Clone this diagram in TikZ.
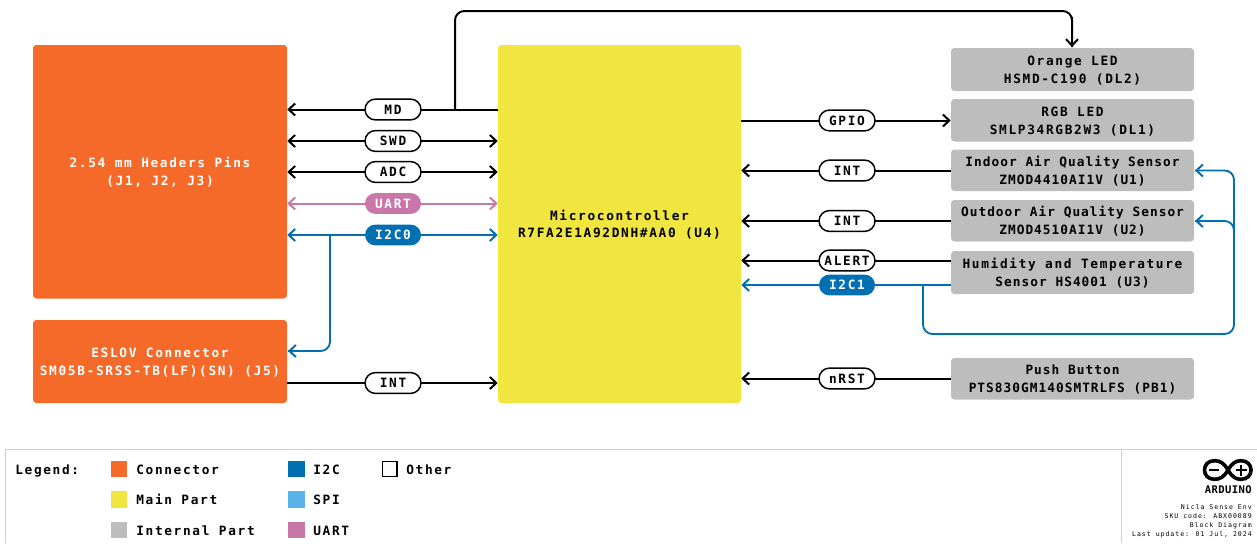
\documentclass[tikz,border=0pt]{standalone}
\usepackage{fontspec}
\usetikzlibrary{arrows.meta}
\newfontfamily\mainmono[LetterSpace=13]{DejaVu Sans Mono}
\newfontfamily\tightmono[LetterSpace=8]{DejaVu Sans Mono}
\newfontfamily\tinymono[LetterSpace=15]{DejaVu Sans Mono}
\newfontfamily\logomono[LetterSpace=4]{DejaVu Sans Mono}
\definecolor{cOrange}{HTML}{F56A29}
\definecolor{cYellow}{HTML}{F1E53F}
\definecolor{cGrey}{HTML}{BDBDBD}
\definecolor{cBlue}{HTML}{0070B2}
\definecolor{cSky}{HTML}{58B4E8}
\definecolor{cPink}{HTML}{C977A8}
\definecolor{cFrame}{HTML}{CFCFCF}
\newcommand{\fs}{\bfseries\fontsize{9.6}{13.3}\selectfont}
\tikzset{
  x=0.75pt,y=-0.75pt,
  part/.style={rounded corners=2.5pt,inner sep=0pt,align=center,font=\mainmono\fs},
  cblock/.style={part,fill=cOrange,text=white},
  mblock/.style={part,fill=cYellow,text=black},
  iblock/.style={part,fill=cGrey,text=black},
  pill/.style={rounded corners=7.8pt,minimum width=42pt,minimum height=15.6pt,inner sep=0pt,font=\mainmono\fs,line width=1.1pt},
  opill/.style={pill,draw=black,fill=white,text=black},
  bpill/.style={pill,fill=cBlue,text=white},
  ppill/.style={pill,fill=cPink,text=white},
  wire/.style={line width=1.5pt,draw=black,rounded corners=7pt},
  bwire/.style={line width=1.4pt,draw=cBlue,rounded corners=7pt},
  pwire/.style={line width=1.5pt,draw=cPink},
  tip/.style={-{Straight Barb[length=4.8pt,width=9pt,line width=1.5pt]}},
  dtip/.style={{Straight Barb[length=4.8pt,width=9pt,line width=1.5pt]}-{Straight Barb[length=4.8pt,width=9pt,line width=1.5pt]}},
  swatch/.style={minimum width=12.4pt,minimum height=12.4pt,inner sep=0pt},
  legtext/.style={anchor=base west,inner sep=0pt,font=\mainmono\fs},
  meta/.style={anchor=east,inner sep=0pt,font=\tinymono\fontsize{4.9}{6}\selectfont},
}
\newcommand{\bx}[7]{\node[#1,minimum width=#4*0.75pt-#2*0.75pt,minimum height=#5*0.75pt-#3*0.75pt] (#6) at ({(#2+#4)/2},{(#3+#5)/2}) {\rule{0pt}{8.6pt}#7};}
\begin{document}
\begin{tikzpicture}
\useasboundingbox (0,0) rectangle (1257,543);
% blocks
\bx{cblock}{33}{45}{287}{298.5}{hdr}{2.54 mm Headers Pins\\(J1, J2, J3)}
\bx{cblock}{33}{320}{287}{403}{eslov}{ESLOV Connector\\SM05B-SRSS-TB(LF)(SN) (J5)}
\bx{mblock}{498}{45}{741}{403}{mcu}{Microcontroller\\R7FA2E1A92DNH\#AA0 (U4)}
\bx{iblock}{951}{48}{1194}{91}{dltwo}{Orange LED\\HSMD-C190 (DL2)}
\bx{iblock}{951}{99}{1194}{141.5}{dlone}{RGB LED\\SMLP34RGB2W3 (DL1)}
\bx{iblock}{951}{149.5}{1194}{191}{uone}{\tightmono Indoor Air Quality Sensor\\\tightmono ZMOD4410AI1V (U1)}
\bx{iblock}{951}{200}{1194}{241.5}{utwo}{\tightmono Outdoor Air Quality Sensor\\\tightmono ZMOD4510AI1V (U2)}
\bx{iblock}{951}{251}{1194}{294}{uthree}{Humidity and Temperature\\\tightmono Sensor HS4001 (U3)}
\bx{iblock}{951}{358}{1194}{399.5}{pb}{\tightmono Push Button\\\tightmono PTS830GM140SMTRLFS (PB1)}
% pill positions
\coordinate (md) at (393,109.5);
\coordinate (swd) at (393,141);
\coordinate (adc) at (393,172);
\coordinate (uart) at (393,203.5);
\coordinate (ictwoz) at (393,235);
\coordinate (intl) at (393,383);
\coordinate (gpio) at (847,120.5);
\coordinate (intone) at (847,170.5);
\coordinate (inttwo) at (847,221);
\coordinate (alert) at (847,260.5);
\coordinate (ictwoo) at (847,285);
\coordinate (nrst) at (847,378.5);
% helper coordinates
\coordinate (mdj) at (455,109.5);
\coordinate (topl) at (455,11);
\coordinate (topr) at (1072,11);
\coordinate (ledin) at (1072,47);
\coordinate (ej) at (330,235);
\coordinate (eb) at (330,351);
\coordinate (ein) at (288,351);
\coordinate (rj) at (923,285);
\coordinate (rb) at (923,334);
\coordinate (rr) at (1234,334);
\coordinate (rt) at (1234,170.5);
\coordinate (r2) at (1234,221);
\coordinate (uin) at (1195,170.5);
\coordinate (u2in) at (1195,221);
% connectors
\draw[wire,tip] (md) -- (hdr.east |- md);
\draw[wire] (md) -- (mcu.west |- md);
\draw[wire] (mdj) -- (topl) -- (topr) -- (ledin);
\draw[wire,tip] (topr) ++(0,6) -- (ledin);
\draw[wire,dtip] (hdr.east |- swd) -- (mcu.west |- swd);
\draw[wire,dtip] (hdr.east |- adc) -- (mcu.west |- adc);
\draw[pwire,dtip] (hdr.east |- uart) -- (mcu.west |- uart);
\draw[bwire,dtip] (hdr.east |- ictwoz) -- (mcu.west |- ictwoz);
\draw[bwire] (ej) -- (eb) -- (ein);
\draw[bwire,tip] (ein) ++(8,0) -- (ein);
\draw[wire,tip] (eslov.east |- intl) -- (mcu.west |- intl);
\draw[wire,tip] (mcu.east |- gpio) -- (dlone.west |- gpio);
\draw[wire,tip] (uone.west |- intone) -- (mcu.east |- intone);
\draw[wire,tip] (utwo.west |- inttwo) -- (mcu.east |- inttwo);
\draw[wire,tip] (uthree.west |- alert) -- (mcu.east |- alert);
\draw[bwire,tip] (uthree.west |- ictwoo) -- (mcu.east |- ictwoo);
\draw[wire,tip] (pb.west |- nrst) -- (mcu.east |- nrst);
\draw[bwire] (rj) -- (rb) -- (rr) -- (rt) -- (uin);
\draw[bwire] (1234,232) -- (r2) -- (u2in);
\draw[bwire,tip] (uin) ++(8,0) -- (uin);
\draw[bwire,tip] (u2in) ++(8,0) -- (u2in);
% pills on top of the wires
\node[opill] (pmd) at (md) {MD};
\node[opill] (pswd) at (swd) {SWD};
\node[opill] (padc) at (adc) {ADC};
\node[ppill] (puart) at (uart) {UART};
\node[bpill] (pictwoz) at (ictwoz) {I2C0};
\node[opill] (pintl) at (intl) {INT};
\node[opill] (pgpio) at (gpio) {GPIO};
\node[opill] (pintone) at (intone) {INT};
\node[opill] (pinttwo) at (inttwo) {INT};
\node[opill] (palert) at (alert) {ALERT};
\node[bpill] (pictwoo) at (ictwoo) {I2C1};
\node[opill] (pnrst) at (nrst) {nRST};
% legend frame
\draw[cFrame,line width=0.9pt] (5.5,543) -- (5.5,449.5) -- (1257,449.5);
\draw[cFrame,line width=0.9pt] (1121.5,449.5) -- (1121.5,543);
\node[legtext] (lg) at (15,474) {Legend:};
\node[swatch,fill=cOrange] (s1) at (119,469) {};
\node[swatch,fill=cYellow] (s2) at (119,499.5) {};
\node[swatch,fill=cGrey] (s3) at (119,530) {};
\node[swatch,fill=cBlue] (s4) at (296.5,469) {};
\node[swatch,fill=cSky] (s5) at (296.5,499.5) {};
\node[swatch,fill=cPink] (s6) at (296.5,530) {};
\node[swatch,draw=black,line width=1pt,minimum width=11pt,minimum height=11pt] (s7) at (389.5,469) {};
\node[legtext] (t1) at (136,474) {Connector};
\node[legtext] (t2) at (136,504.5) {Main Part};
\node[legtext] (t3) at (136,535) {Internal Part};
\node[legtext] (t4) at (313,474) {I2C};
\node[legtext] (t5) at (313,504.5) {SPI};
\node[legtext] (t6) at (313,535) {UART};
\node[legtext] (t7) at (406,474) {Other};
% logo
\draw[black,line width=2.7pt] (1228,470) .. controls (1224,463) and (1220,460.7) .. (1214.5,460.7) .. controls (1208,460.7) and (1204.5,465) .. (1204.5,470) .. controls (1204.5,475) and (1208,479.3) .. (1214.5,479.3) .. controls (1220,479.3) and (1224,477) .. (1228,470) .. controls (1232,463) and (1236,460.7) .. (1241,460.7) .. controls (1247.5,460.7) and (1251,465) .. (1251,470) .. controls (1251,475) and (1247.5,479.3) .. (1241,479.3) .. controls (1236,479.3) and (1232,477) .. (1228,470) -- cycle;
\draw[black,line width=1.8pt] (1209,470) -- (1219,470);
\draw[black,line width=1.8pt] (1235.5,470) -- (1246.5,470) (1241,464.5) -- (1241,475.5);
\node[anchor=east,inner sep=0pt,font=\logomono\bfseries\fontsize{7.9}{8}\selectfont] (ard) at (1252,489.5) {ARDUINO};
\node[meta] (m1) at (1252,507.5) {Nicla Sense Env};
\node[meta] (m2) at (1252,516) {SKU code: ABX00089};
\node[meta] (m3) at (1252,525.5) {Block Diagram};
\node[meta] (m4) at (1252,534.5) {Last update: 01 Jul, 2024};
\end{tikzpicture}
\end{document}
